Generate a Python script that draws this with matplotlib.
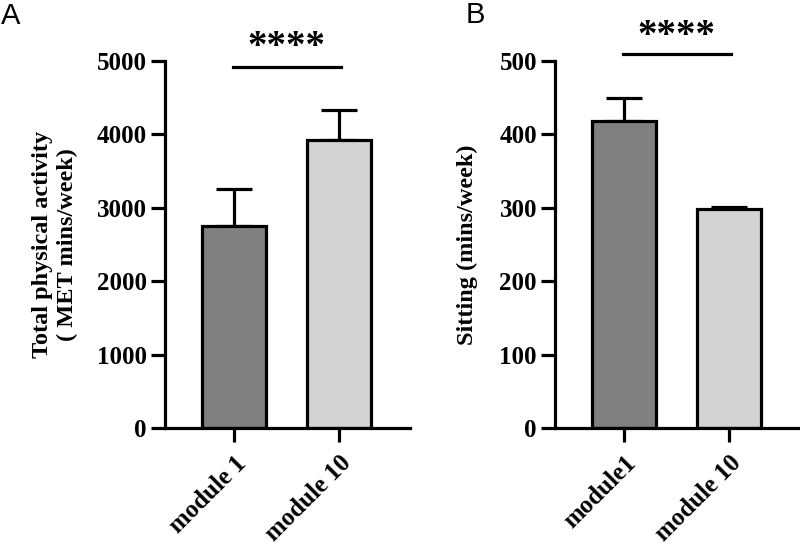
import matplotlib
matplotlib.use("Agg")
import matplotlib.pyplot as plt

plt.rcParams['font.family'] = ['Liberation Serif', 'DejaVu Serif']
plt.rcParams['font.weight'] = 'bold'

# Panel A: total physical activity
a_labels = ['module 1', 'module 10']
a_means = [2750, 3920]
a_err = [510, 410]

# Panel B: sitting
b_labels = ['module1', 'module 10']
b_means = [418, 299]
b_err = [32, 2]

bar_colors = ['#808080', '#d3d3d3']

fig = plt.figure(figsize=(8, 5.45), dpi=100)
W, H = 800, 545


def px_axes(left, right, top, bottom):
    return fig.add_axes([left / W, 1 - bottom / H, (right - left) / W, (bottom - top) / H])


def draw_panel(ax, labels, means, errs, ymax, ystep, ylabel, label_x, sig_y, star_y):
    x = [0, 1]
    ax.bar(x, means, width=0.61, color=bar_colors, edgecolor='black', linewidth=2.3, zorder=2)
    ax.errorbar(x, means, yerr=[[0, 0], errs], fmt='none', ecolor='black',
                elinewidth=2.3, capsize=13, capthick=2.3, zorder=1)
    ax.set_xlim(-0.657, 1.676)
    ax.set_ylim(0, ymax)
    ax.set_yticks(range(0, ymax + 1, ystep))
    ax.set_xticks(x)
    ax.set_xticklabels(labels, rotation=45, ha='right', rotation_mode='anchor')
    for s in ['top', 'right']:
        ax.spines[s].set_visible(False)
    for s in ['left', 'bottom']:
        ax.spines[s].set_linewidth(2.3)
    ax.tick_params(width=2.3, length=10, labelsize=18, pad=3)
    ax.tick_params(axis='x', pad=7)
    for t in ax.get_xticklabels() + ax.get_yticklabels():
        t.set_fontweight('bold')
    ax.set_ylabel(ylabel, fontsize=17.5, fontweight='bold', linespacing=1.25)
    ax.yaxis.set_label_coords(label_x, 0.5)
    ax.plot([-0.01, 1.02], [sig_y, sig_y], color='black', lw=2.3, clip_on=False)
    ax.text(0.5, star_y, '****', ha='center', va='center', fontsize=28,
            fontweight='bold', clip_on=False)


ax_a = px_axes(165, 410, 61, 428)
draw_panel(ax_a, a_labels, a_means, a_err, 5000, 1000,
           'Total physical activity\n( MET mins/week)', -0.355, 4918, 5190)

ax_b = px_axes(555, 800, 61, 428)
draw_panel(ax_b, b_labels, b_means, b_err, 500, 100,
           'Sitting (mins/week)', -0.314, 509.5, 533)

fig.text(11 / W, 1 - 16 / H, 'A', fontsize=21, fontfamily='Liberation Sans',
         fontweight='normal', ha='center', va='center')
fig.text(475 / W, 1 - 15 / H, 'B', fontsize=21, fontfamily='Liberation Sans',
         fontweight='normal', ha='center', va='center')

fig.savefig('out.png', dpi=100)
